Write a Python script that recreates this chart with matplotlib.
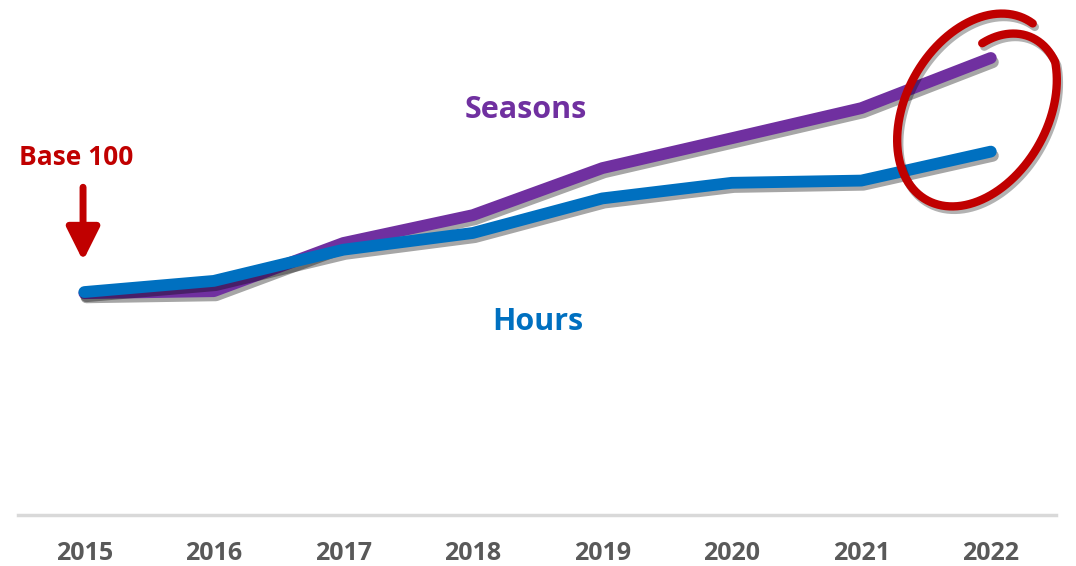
import numpy as np
import matplotlib.pyplot as plt
import matplotlib.patheffects as pe

# data (index, 2015 = base 100)
years = ['2015', '2016', '2017', '2018', '2019', '2020', '2021', '2022']
seasons = [99.5, 100.4, 122, 134.5, 155.6, 169, 182.5, 205]
hours = [100, 105, 119, 126.5, 142, 149, 150, 163]

purple = '#7030A0'
blue = '#0070C0'
red = '#C00000'
font = 'Open Sans'

fig = plt.figure(figsize=(10.76, 5.66), dpi=100)
ax = fig.add_axes([0.017, 0.0901, 0.964, 0.9099])
x = np.arange(len(years))

shadow = [pe.SimpleLineShadow(offset=(1.5, -3), shadow_color='black', alpha=0.35), pe.Normal()]
ax.plot(x, seasons, color=purple, lw=8.5, solid_capstyle='round', solid_joinstyle='round',
        path_effects=shadow, zorder=3)
ax.plot(x, hours, color=blue, lw=8.5, solid_capstyle='round', solid_joinstyle='round',
        path_effects=shadow, zorder=4)

ax.set_xlim(-0.51, 7.5)
ax.set_ylim(0, 231)
ax.set_yticks([])
ax.set_xticks(x)
ax.set_xticklabels(years, fontsize=18, fontweight='bold', color='#595959', family=font)
ax.tick_params(axis='x', length=0, pad=19)
for s in ['top', 'right', 'left']:
    ax.spines[s].set_visible(False)
ax.spines['bottom'].set_color('#D9D9D9')
ax.spines['bottom'].set_linewidth(2.5)

# series labels
ax.text(3.41, 181.5, 'Seasons', color=purple, fontsize=22, fontweight='bold',
        family=font, ha='center', va='center')
ax.text(3.5, 86.5, 'Hours', color=blue, fontsize=22, fontweight='bold',
        family=font, ha='center', va='center')

# base 100 marker
ax.text(-0.06, 160.5, 'Base 100', color=red, fontsize=19, fontweight='bold',
        family=font, ha='center', va='center')
ax.annotate('', xy=(-0.01, 114), xytext=(-0.01, 147),
            arrowprops=dict(arrowstyle='-|>,head_length=1.0,head_width=0.5',
                            mutation_scale=20, color=red, lw=5, shrinkA=0, shrinkB=0))

# hand drawn circle around 2022 (figure pixels, y down)
t = np.radians(np.linspace(54, 453, 400))
scale = np.where(t < np.radians(380), 1.0,
                 1.0 - 0.29 * (t - np.radians(380)) / np.radians(73))
px = 977 + scale * (79 * np.cos(t) + 11.5 * np.sin(t))
py = 110 + scale * (-16.5 * np.cos(t) - 95 * np.sin(t))
fig.add_artist(plt.Line2D(px / 1076, 1 - py / 566, transform=fig.transFigure, color=red, lw=6,
                          solid_capstyle='round',
                          path_effects=[pe.SimpleLineShadow(offset=(1.5, -2.5), alpha=0.3), pe.Normal()]))

fig.savefig('out.png', dpi=100)
